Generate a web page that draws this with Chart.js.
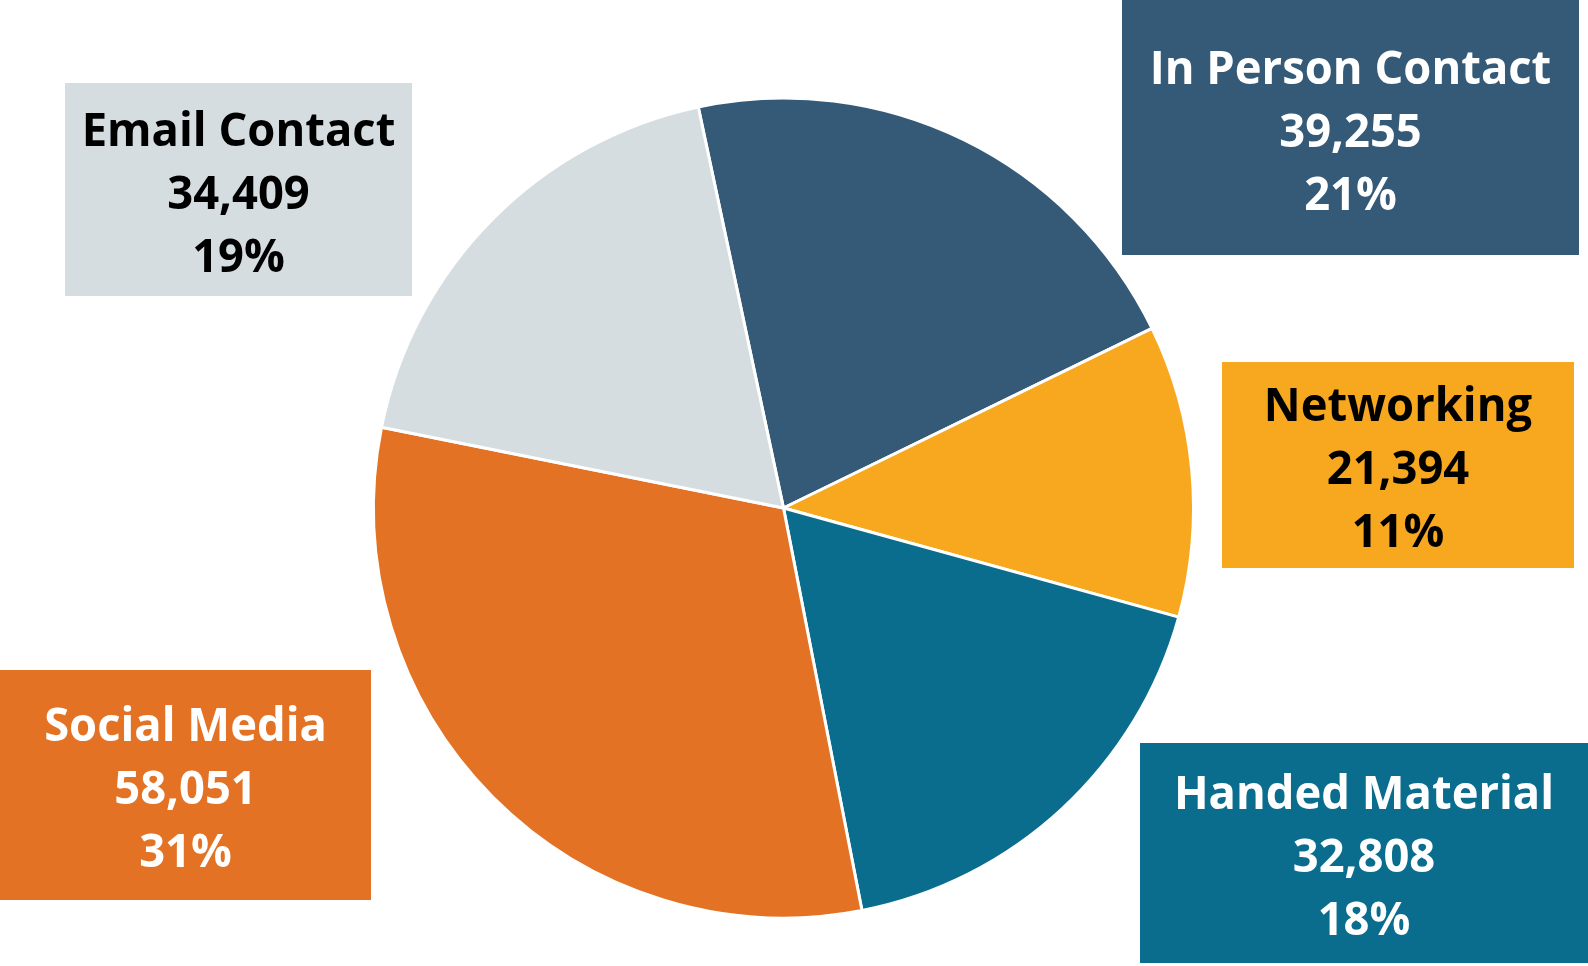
<!DOCTYPE html>
<html>
<head>
<meta charset="utf-8">
<script src="https://cdn.jsdelivr.net/npm/chart.js@4/dist/chart.umd.min.js"></script>
<style>
  html, body { margin: 0; padding: 0; background: #ffffff; }
  #wrap { position: relative; width: 1588px; height: 966px; }
</style>
</head>
<body>
<div id="wrap"><canvas id="c" width="1588" height="966"></canvas></div>
<script>
const categories = ["In Person Contact", "Networking", "Handed Material", "Social Media", "Email Contact"];
const values = [39255, 21394, 32808, 58051, 34409];
const percentLabels = ["21%", "11%", "18%", "31%", "19%"];
const sliceColors = ["#345a78", "#f7a81f", "#0b6d8e", "#e37224", "#d6dde1"];
const labelTextColors = ["#ffffff", "#000000", "#ffffff", "#ffffff", "#000000"];

// label box layout (x, y, w, h) in canvas pixels
const boxLayout = [
  [1122, 0, 457, 255],
  [1222, 362, 352, 206],
  [1140, 743, 448, 220],
  [0, 670, 371, 230],
  [65, 83, 347, 213]
];

const fmt = v => v.toLocaleString('en-US');

const labelBoxes = {
  id: 'labelBoxes',
  afterDraw(chart) {
    const ctx = chart.ctx;
    ctx.save();
    ctx.font = 'bold 47px "Open Sans", "Noto Sans", sans-serif';
    ctx.textAlign = 'center';
    ctx.textBaseline = 'alphabetic';
    const sx = 0.965;
    categories.forEach((cat, i) => {
      const [x, y, w, h] = boxLayout[i];
      ctx.fillStyle = sliceColors[i];
      ctx.fillRect(x, y, w, h);
      ctx.fillStyle = labelTextColors[i];
      const cx = x + w / 2;
      const lines = [cat, fmt(values[i]), percentLabels[i]];
      const lh = 63;
      const midBase = y + h / 2 + 19;
      lines.forEach((t, k) => {
        ctx.save();
        ctx.translate(cx, midBase + (k - 1) * lh);
        ctx.scale(sx, 1);
        ctx.fillText(t, 0, 0);
        ctx.restore();
      });
    });
    ctx.restore();
  }
};

new Chart(document.getElementById('c'), {
  type: 'pie',
  data: {
    labels: categories,
    datasets: [{
      data: values,
      backgroundColor: sliceColors,
      borderColor: '#ffffff',
      borderWidth: 3
    }]
  },
  options: {
    responsive: false,
    animation: false,
    rotation: -12,
    radius: 410,
    layout: { padding: { left: 0, right: 21, top: 50, bottom: 0 } },
    plugins: {
      legend: { display: false },
      tooltip: { enabled: false },
      title: { display: false }
    }
  },
  plugins: [labelBoxes]
});
</script>
</body>
</html>
